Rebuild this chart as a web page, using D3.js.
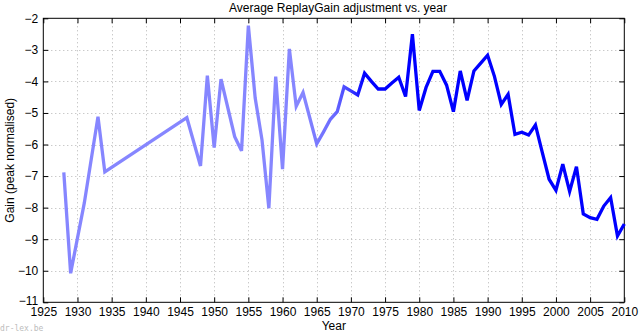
<!DOCTYPE html>
<html>
<head>
<meta charset="utf-8">
<script src="https://cdn.jsdelivr.net/npm/d3@7"></script>
<style>
  html, body { margin: 0; padding: 0; background: #fff; }
  svg { display: block; font-family: "Liberation Sans", Arial, sans-serif; }
</style>
</head>
<body>
<svg id="chart" width="640" height="334"></svg>
<script>
// Average ReplayGain adjustment per release year
const years = [1928,1929,1931,1933,1934,1946,1948,1949,1950,1951,1953,1954,1955,1956,1957,1958,1959,1960,1961,1962,1963,1965,1966,1967,1968,1969,1970,1971,1972,1973,1974,1975,1976,1977,1978,1979,1980,1981,1982,1983,1984,1985,1986,1987,1988,1989,1990,1991,1992,1993,1994,1995,1996,1997,1998,1999,2000,2001,2002,2003,2004,2005,2006,2007,2008,2009,2010];
const gain = [-6.88,-10.08,-7.85,-5.12,-6.87,-5.15,-6.68,-3.82,-6.10,-3.93,-5.75,-6.20,-2.23,-4.53,-5.86,-8.02,-3.85,-6.78,-2.97,-4.79,-4.35,-5.98,-5.60,-5.20,-4.96,-4.17,-4.30,-4.43,-3.74,-4.00,-4.24,-4.24,-4.05,-3.87,-4.48,-2.50,-4.92,-4.19,-3.68,-3.68,-4.12,-4.96,-3.67,-4.60,-3.67,-3.42,-3.17,-3.84,-4.73,-4.41,-5.68,-5.61,-5.70,-5.38,-6.25,-7.10,-7.45,-6.62,-7.49,-6.70,-8.20,-8.32,-8.37,-7.95,-7.68,-8.90,-8.52];
const xTicks = [1925,1930,1935,1940,1945,1950,1955,1960,1965,1970,1975,1980,1985,1990,1995,2000,2005,2010];
const yTicks = [-2,-3,-4,-5,-6,-7,-8,-9,-10,-11];

const title = "Average ReplayGain adjustment vs. year";
const xLabel = "Year";
const yLabel = "Gain (peak normalised)";

const svg = d3.select("#chart");
const plotL = 43.3, plotR = 624.3, plotT = 18.3, plotB = 302.3;

const x = d3.scaleLinear().domain([1925, 2010]).range([plotL, plotR]);
const y = d3.scaleLinear().domain([-11, -2]).range([plotB, plotT]);

// dotted grid
const grid = svg.append("g").attr("stroke", "#b4b4b4").attr("stroke-width", 1)
  .attr("stroke-dasharray", "1,3");
xTicks.slice(1, -1).forEach(t => {
  grid.append("line").attr("x1", Math.round(x(t)) + 0.5).attr("x2", Math.round(x(t)) + 0.5)
    .attr("y1", plotT).attr("y2", plotB);
});
yTicks.slice(1, -1).forEach(t => {
  grid.append("line").attr("y1", Math.round(y(t)) + 0.5).attr("y2", Math.round(y(t)) + 0.5)
    .attr("x1", plotL).attr("x2", plotR);
});

// axes with inward ticks on all four sides
const tickLen = 5;
const fmt = d => d3.format("d")(d).replace("-", "\u2212");
const axBottom = svg.append("g").attr("transform", `translate(0,${plotB})`)
  .call(d3.axisBottom(x).tickValues(xTicks).tickSizeInner(-tickLen).tickSizeOuter(0).tickPadding(5).tickFormat(d3.format("d")));
const axTop = svg.append("g").attr("transform", `translate(0,${plotT})`)
  .call(d3.axisTop(x).tickValues(xTicks).tickSizeInner(-tickLen).tickSizeOuter(0).tickFormat(""));
const axLeft = svg.append("g").attr("transform", `translate(${plotL},0)`)
  .call(d3.axisLeft(y).tickValues(yTicks).tickSizeInner(-tickLen).tickSizeOuter(0).tickPadding(5).tickFormat(fmt));
const axRight = svg.append("g").attr("transform", `translate(${plotR},0)`)
  .call(d3.axisRight(y).tickValues(yTicks).tickSizeInner(-tickLen).tickSizeOuter(0).tickFormat(""));
[axBottom, axTop, axLeft, axRight].forEach(g => {
  g.select(".domain").remove();
  g.selectAll("text").attr("font-size", 12).attr("fill", "#000")
    .attr("font-family", "Liberation Sans, Arial, sans-serif");
  g.selectAll("line").attr("stroke", "#000");
});
// lowest y label sits just above the year labels
axLeft.selectAll(".tick text").filter(d => d === -11).attr("dy", "0.2em");

// frame
svg.append("rect").attr("x", plotL).attr("y", plotT)
  .attr("width", plotR - plotL).attr("height", plotB - plotT)
  .attr("fill", "none").attr("stroke", "#000").attr("stroke-width", 1);

// line colour deepens as yearly sample sizes grow
const defs = svg.append("defs");
const grad = defs.append("linearGradient").attr("id", "lineGrad")
  .attr("gradientUnits", "userSpaceOnUse")
  .attr("x1", x(1963)).attr("x2", x(1972)).attr("y1", 0).attr("y2", 0);
grad.append("stop").attr("offset", 0).attr("stop-color", "#8686ff");
grad.append("stop").attr("offset", 0.5).attr("stop-color", "#6a6aff");
grad.append("stop").attr("offset", 0.75).attr("stop-color", "#4242ff");
grad.append("stop").attr("offset", 1).attr("stop-color", "#0000ff");

const pts = years.map((yv, i) => [yv, gain[i]]);
const line = d3.line().x(d => x(d[0])).y(d => y(d[1]));
svg.append("path").datum(pts)
  .attr("d", line)
  .attr("fill", "none")
  .attr("stroke", "url(#lineGrad)")
  .attr("stroke-width", 3.3)
  .attr("stroke-linejoin", "miter");

// labels
svg.append("text").attr("x", 338).attr("y", 12).attr("text-anchor", "middle")
  .attr("font-size", 12).text(title);
svg.append("text").attr("x", (plotL + plotR) / 2).attr("y", 330).attr("text-anchor", "middle")
  .attr("font-size", 12).text(xLabel);
svg.append("text").attr("transform", `translate(14,${(plotT + plotB) / 2}) rotate(-90)`)
  .attr("text-anchor", "middle").attr("font-size", 12).text(yLabel);

// site mark
svg.append("text").attr("x", 0).attr("y", 331)
  .attr("font-family", "DejaVu Sans Mono, monospace").attr("font-size", 8)
  .attr("fill", "#bdbdbd").text("dr-lex.be");
</script>
</body>
</html>
